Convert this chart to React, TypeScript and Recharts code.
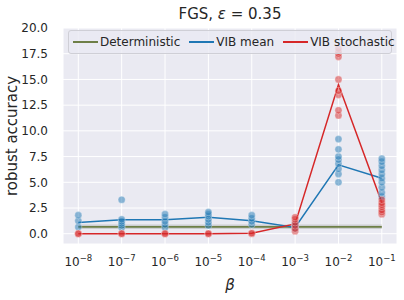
import React from 'react'
import { ComposedChart, Line, Scatter, Area, XAxis, YAxis, CartesianGrid } from 'recharts'

// log10(beta)
const betas = [-8, -7, -6, -5, -4, -3, -2, -1]

const detMean = [0.67, 0.67, 0.67, 0.67, 0.67, 0.67, 0.67, 0.67]
const detLow = [0.45, 0.45, 0.45, 0.45, 0.45, 0.45, 0.45, 0.45]
const detHigh = [0.9, 0.9, 0.9, 0.9, 0.9, 0.9, 0.9, 0.9]

const vibMean = [1.1, 1.35, 1.35, 1.6, 1.25, 0.6, 6.7, 5.4]
const vibStoch = [0.0, 0.0, 0.0, 0.0, 0.05, 0.95, 14.5, 3.0]

// individual runs
const vibMeanRuns: number[][] = [
  [0.65, 1.25, 1.8],
  [0.6, 0.8, 1.0, 1.2, 1.4, 3.3],
  [0.6, 0.9, 1.2, 1.6, 1.9],
  [0.8, 1.1, 1.4, 1.7, 1.9, 2.1],
  [0.9, 1.2, 1.5, 1.8],
  [0.5, 0.7, 0.9],
  [5.0, 5.8, 6.3, 6.8, 7.2, 7.5, 8.2, 9.2],
  [3.6, 4.0, 4.5, 5.0, 5.4, 5.8, 6.2, 6.6, 7.0, 7.3],
]
const vibStochRuns: number[][] = [
  [0.0, 0.0],
  [0.0, 0.0],
  [0.0, 0.0],
  [0.0, 0.0],
  [0.0, 0.05],
  [0.25, 0.5, 0.8, 1.1, 1.4, 1.6],
  [11.5, 12.0, 13.5, 13.9, 15.0, 17.2, 17.5, 17.7, 18.0],
  [1.9, 2.1, 2.3, 2.6, 2.8, 3.0, 3.3],
]

const yTicks = [0, 2.5, 5, 7.5, 10, 12.5, 15, 17.5, 20]

const C_DET = '#6e7f47'
const C_MEAN = '#1f77b4'
const C_STOCH = '#d62728'
const FONT = 'DejaVu Sans'

const detData = betas.map((x, i) => ({ x, y: detMean[i], band: [detLow[i], detHigh[i]] }))
const meanData = betas.map((x, i) => ({ x, y: vibMean[i] }))
const stochData = betas.map((x, i) => ({ x, y: vibStoch[i] }))
const meanPts = betas.flatMap((x, i) => vibMeanRuns[i].map((y) => ({ x, y })))
const stochPts = betas.flatMap((x, i) => vibStochRuns[i].map((y) => ({ x, y })))

const dot = (color: string) => (p: any) => (
  <circle cx={p.cx} cy={p.cy} r={3.6} fill={color} fillOpacity={0.5} stroke="#fff" strokeWidth={0.5} strokeOpacity={0.6} />
)

const XTick = (p: any) => (
  <text x={p.x} y={p.y + 14} textAnchor="middle" fontFamily={FONT} fontSize={12} fill="#262626">
    10<tspan dy={-5} fontSize={8.5}>{'\u2212' + Math.abs(p.payload.value)}</tspan>
  </text>
)

const legendItems = [
  { name: 'Deterministic', color: C_DET },
  { name: 'VIB mean', color: C_MEAN },
  { name: 'VIB stochastic', color: C_STOCH },
]

const LegendBox = () => (
  <div
    style={{
      position: 'absolute',
      left: 68,
      top: 30,
      width: 324,
      height: 24,
      display: 'flex',
      alignItems: 'center',
      padding: '0 4px',
      background: 'rgba(234,234,242,0.8)',
      border: '1px solid #cfcfd6',
      borderRadius: 3,
      fontFamily: FONT,
      fontSize: 12,
      color: '#262626',
      boxSizing: 'border-box',
      whiteSpace: 'nowrap',
    }}
  >
    {legendItems.map((it, i) => (
      <div key={it.name} style={{ display: 'flex', alignItems: 'center', marginLeft: i ? 9 : 0 }}>
        <div style={{ width: 25, height: 2, background: it.color, marginRight: 2 }} />
        <span>{it.name}</span>
      </div>
    ))}
  </div>
)

export default function App() {
  return (
    <div style={{ position: 'absolute', left: 0, top: 0, width: 404, height: 300, background: '#fff' }}>
      <div
        style={{
          position: 'absolute',
          left: 63,
          width: 334,
          top: 5,
          textAlign: 'center',
          fontFamily: FONT,
          fontSize: 15,
          color: '#262626',
        }}
      >
        FGS, <i>ε</i> = 0.35
      </div>
      <ComposedChart width={404} height={300} margin={{ top: 28, right: 7, bottom: 0, left: 0 }}>
        <CartesianGrid fill="#eaeaf2" stroke="#fff" strokeWidth={1} />
        <XAxis
          type="number"
          dataKey="x"
          domain={[-8.353, -0.65]}
          ticks={betas}
          interval={0}
          allowDataOverflow
          axisLine={false}
          tickLine={false}
          tick={<XTick />}
          height={56}
          label={{ value: 'β', position: 'insideBottom', offset: 10, fontFamily: FONT, fontSize: 15, fontStyle: 'italic', fill: '#262626' }}
        />
        <YAxis
          type="number"
          domain={[-1, 20]}
          ticks={yTicks}
          interval={0}
          allowDataOverflow
          axisLine={false}
          tickLine={false}
          tickMargin={9}
          width={63}
          tickFormatter={(v: number) => v.toFixed(1)}
          tick={{ fontFamily: FONT, fontSize: 12, fill: '#262626' }}
          label={{ value: 'robust accuracy', angle: -90, position: 'insideLeft', offset: 12, style: { textAnchor: 'middle' }, fontFamily: FONT, fontSize: 15, fill: '#262626' }}
        />
        <Area data={detData} dataKey="band" type="linear" stroke="none" fill="#a0a4a0" fillOpacity={0.4} isAnimationActive={false} legendType="none" />
        <Line data={detData} dataKey="y" type="linear" stroke={C_DET} strokeWidth={1.8} dot={false} isAnimationActive={false} />
        <Line data={meanData} dataKey="y" type="linear" stroke={C_MEAN} strokeWidth={1.5} dot={false} isAnimationActive={false} />
        <Line data={stochData} dataKey="y" type="linear" stroke={C_STOCH} strokeWidth={1.5} dot={false} isAnimationActive={false} />
        <Scatter data={meanPts} dataKey="y" shape={dot(C_MEAN)} isAnimationActive={false} />
        <Scatter data={stochPts} dataKey="y" shape={dot(C_STOCH)} isAnimationActive={false} />
      </ComposedChart>
      <LegendBox />
    </div>
  )
}
